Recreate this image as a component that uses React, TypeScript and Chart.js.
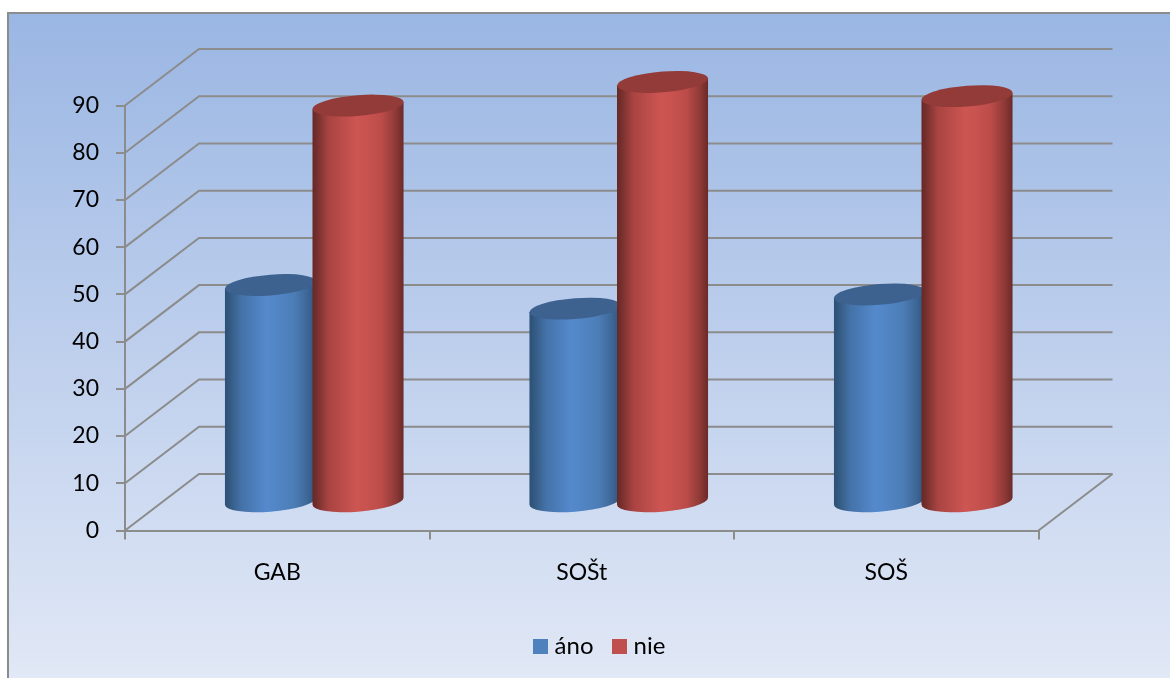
import React, { useEffect, useRef } from "react";
import { Chart, registerables } from "chart.js";

Chart.register(...registerables);

const categories = ["GAB", "SOŠt", "SOŠ"];
const anoValues = [46, 41, 44];
const nieValues = [84, 89, 86];

const GRID = "#8c8c8c";
const FONT = "Lato";
const TICK_SIZE = 23;
const LEGEND_SIZE = 24;
const SWATCH = 15;

// Projection of the chart's depth axis onto the canvas.
const DEPTH_X = 74;
const DEPTH_Y = 56.5;
const TILT = 0.077; // slope of a cylinder's cap across its width
const CAP_MINOR = 10.4; // half height of a cylinder's cap

const seriesColors = ["#4f81bd", "#c0504d"];

interface Shade {
  stops: [number, string][];
  cap: string;
}

const shades: Shade[] = [
  {
    stops: [
      [0, "#2c5078"],
      [0.05, "#33597f"],
      [0.18, "#4472a8"],
      [0.45, "#5489cc"],
      [0.55, "#5286c6"],
      [0.76, "#4c7db6"],
      [0.91, "#3d6695"],
      [1, "#2f527c"],
    ],
    cap: "#3d628f",
  },
  {
    stops: [
      [0, "#672826"],
      [0.04, "#722e2c"],
      [0.18, "#a94442"],
      [0.48, "#cd5552"],
      [0.58, "#c95350"],
      [0.76, "#bc4c49"],
      [0.91, "#8f3a38"],
      [1, "#6b2a28"],
    ],
    cap: "#923b38",
  },
];

const capPath = (
  ctx: CanvasRenderingContext2D,
  cx: number,
  cy: number,
  r: number,
  from: number,
  to: number,
  anticlockwise = false
) => {
  ctx.save();
  ctx.transform(r, -r * TILT, 0, CAP_MINOR, cx, cy);
  ctx.arc(0, 0, 1, from, to, anticlockwise);
  ctx.restore();
};

const makeSwatch = (color: string) => {
  const c = document.createElement("canvas");
  c.width = SWATCH;
  c.height = SWATCH;
  const g = c.getContext("2d")!;
  g.fillStyle = color;
  g.fillRect(0, 0, SWATCH, SWATCH);
  return c;
};

const backdrop = {
  id: "backdrop",
  beforeDraw(chart: Chart) {
    const { ctx, width, height } = chart;
    const g = ctx.createLinearGradient(0, 13, 0, height);
    g.addColorStop(0, "#9ab6e3");
    g.addColorStop(1, "#e1e8f6");
    ctx.save();
    ctx.fillStyle = g;
    ctx.fillRect(8, 13, width - 8, height - 13);
    ctx.strokeStyle = GRID;
    ctx.lineWidth = 2;
    ctx.beginPath();
    ctx.moveTo(8, height);
    ctx.lineTo(8, 13);
    ctx.lineTo(width, 13);
    ctx.stroke();
    ctx.restore();
  },
};

// Paints the walls and floor, then the cylinders in place of flat bars.
const cylinders = {
  id: "cylinders",
  beforeDatasetsDraw(chart: Chart) {
    const { ctx } = chart;
    const y = chart.scales.y;
    const x = chart.scales.x;
    ctx.save();
    ctx.strokeStyle = GRID;
    ctx.lineWidth = 2;
    y.ticks.forEach((t) => {
      const py = y.getPixelForValue(t.value);
      ctx.beginPath();
      ctx.moveTo(x.left, py);
      ctx.lineTo(x.left + DEPTH_X, py - DEPTH_Y);
      ctx.lineTo(x.right + DEPTH_X, py - DEPTH_Y);
      ctx.stroke();
    });
    const floor = y.getPixelForValue(0);
    ctx.beginPath();
    ctx.moveTo(x.right, floor);
    ctx.lineTo(x.right + DEPTH_X, floor - DEPTH_Y);
    ctx.stroke();

    categories.forEach((_, i) => {
      chart.data.datasets.forEach((_d, di) => {
        const el = chart.getDatasetMeta(di).data[i] as any;
        const shade = shades[di];
        const r = el.width / 2;
        const cx = el.x + DEPTH_X / 2;
        const top = el.y - DEPTH_Y / 2;
        const bottom = el.base - DEPTH_Y / 2;
        const g = ctx.createLinearGradient(cx - r, 0, cx + r, 0);
        shade.stops.forEach(([o, c]) => g.addColorStop(o, c));
        ctx.fillStyle = g;
        ctx.beginPath();
        ctx.moveTo(cx - r, top + r * TILT);
        ctx.lineTo(cx - r, bottom + r * TILT);
        capPath(ctx, cx, bottom, r, Math.PI, 0, true);
        ctx.lineTo(cx + r, top - r * TILT);
        ctx.closePath();
        ctx.fill();
        ctx.fillStyle = shade.cap;
        ctx.beginPath();
        capPath(ctx, cx, top, r, 0, Math.PI * 2);
        ctx.closePath();
        ctx.fill();
      });
    });
    ctx.restore();
    return false;
  },
};

export default function App() {
  const ref = useRef<HTMLCanvasElement>(null);

  useEffect(() => {
    const swatches = seriesColors.map(makeSwatch);
    const chart = new Chart(ref.current!, {
      type: "bar",
      data: {
        labels: categories,
        datasets: [
          { label: "áno", data: anoValues, backgroundColor: seriesColors[0], borderWidth: 0 },
          { label: "nie", data: nieValues, backgroundColor: seriesColors[1], borderWidth: 0 },
        ],
      },
      plugins: [backdrop, cylinders],
      options: {
        responsive: false,
        animation: false,
        datasets: { bar: { categoryPercentage: 0.575, barPercentage: 1.04 } },
        layout: { padding: { left: 33, right: 0, top: 105.5, bottom: 10 } },
        plugins: {
          tooltip: { enabled: false },
          legend: {
            position: "bottom",
            labels: {
              usePointStyle: true,
              pointStyleWidth: 5,
              boxHeight: SWATCH,
              padding: 23,
              color: "#000",
              font: { family: FONT, size: LEGEND_SIZE },
              generateLabels(chart: Chart) {
                return Chart.defaults.plugins.legend.labels
                  .generateLabels(chart)
                  .map((item: any, i: number) => ({ ...item, pointStyle: swatches[i] }));
              },
            },
          },
        },
        scales: {
          x: {
            afterFit(s: any) {
              s.height = 80.5;
            },
            border: { color: GRID, width: 2 },
            grid: { drawOnChartArea: false, tickLength: 9, tickColor: GRID, lineWidth: 2, offset: true },
            ticks: { color: "#000", padding: 19.5, font: { family: FONT, size: TICK_SIZE }, maxRotation: 0 },
          },
          y: {
            min: 0,
            max: 90,
            afterFit(s: any) {
              s.width = 92;
            },
            border: { color: GRID, width: 2 },
            grid: { drawOnChartArea: false, tickLength: 9, tickColor: GRID, lineWidth: 2 },
            ticks: { stepSize: 10, color: "#000", padding: 17, font: { family: FONT, size: TICK_SIZE } },
          },
          // Reserves the gutter to the right of the plot for the depth projection.
          gutter: {
            position: "right",
            afterFit(s: any) {
              s.width = 131.5;
            },
            border: { display: false },
            grid: { display: false, drawTicks: false },
            ticks: { display: false },
          },
        },
      },
    } as any);
    return () => chart.destroy();
  }, []);

  return (
    <canvas
      ref={ref}
      width={1170}
      height={678}
      style={{ position: "fixed", left: 0, top: 0, width: 1170, height: 678 }}
    />
  );
}
